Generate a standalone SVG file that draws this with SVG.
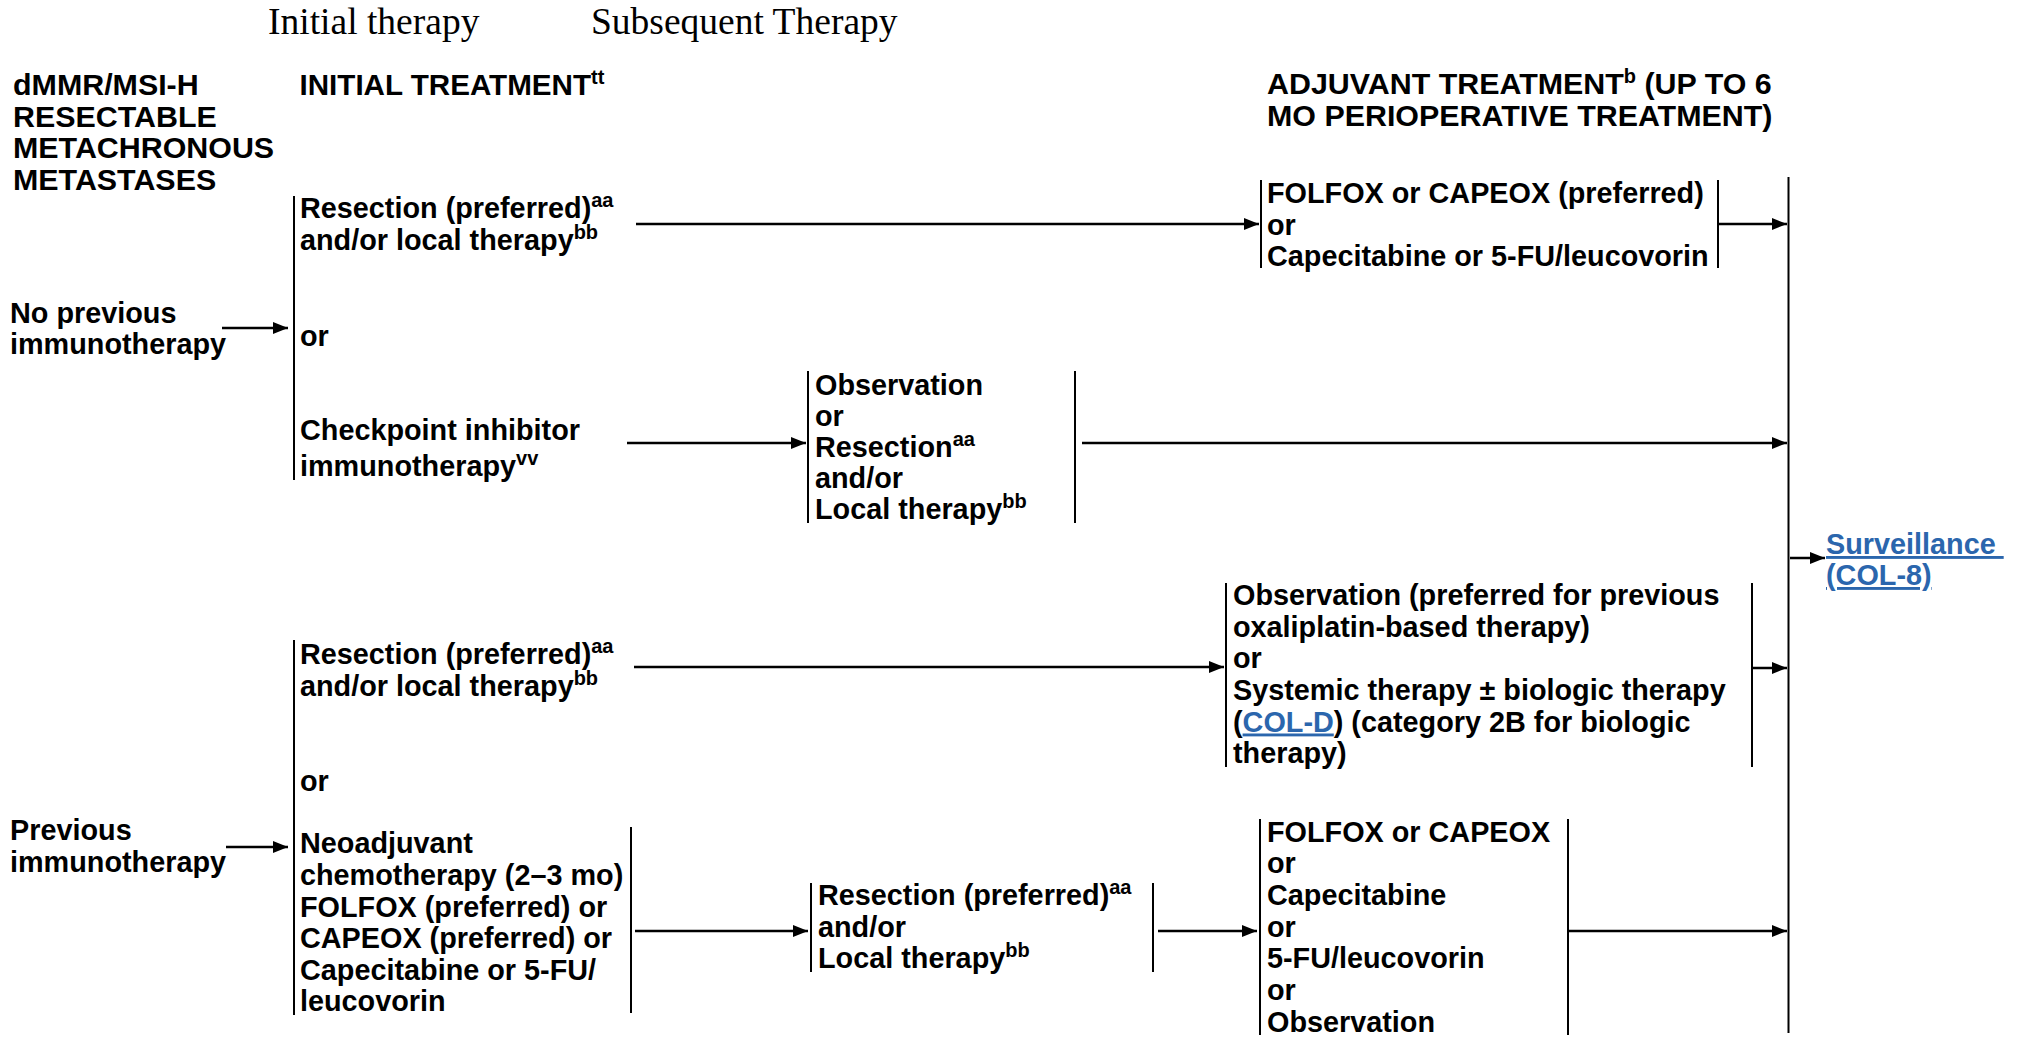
<svg xmlns="http://www.w3.org/2000/svg" width="2024" height="1037" viewBox="0 0 2024 1037">
  <style>
    .t { font-family: "Liberation Sans", Arial, Helvetica, sans-serif; font-weight: bold; font-size: 28.8px; fill: #000; }
    .h { font-size: 30.4px; }
    .sup { font-size: 20px; }
    .serif { font-family: "Liberation Serif", "Times New Roman", serif; font-size: 37.5px; fill: #000; }
    .link { fill: #2b66ad; text-decoration: underline; }
    .br { stroke: #000; stroke-width: 2; fill: none; }
    .cn { stroke: #000; stroke-width: 2.4; fill: none; marker-end: url(#ah); }
  </style>
  <defs>
    <marker id="ah" markerUnits="userSpaceOnUse" markerWidth="15" markerHeight="12" refX="15" refY="6" orient="auto">
      <path d="M0,0 L15,6 L0,12 z" fill="#000"/>
    </marker>
  </defs>
  <rect width="2024" height="1037" fill="#fff"/>

  <!-- column captions -->
  <g id="captions">
    <text class="serif" x="268" y="34">Initial therapy</text>
    <text class="serif" x="591" y="34">Subsequent Therapy</text>
    <text class="t" x="299.5" y="95" style="font-size:29.6px">INITIAL TREATMENT<tspan class="sup" dy="-11">tt</tspan></text>
    <text class="t h" x="1267" y="94">ADJUVANT TREATMENT<tspan class="sup" dy="-11">b</tspan><tspan dy="11"> (UP TO 6</tspan></text>
    <text class="t h" x="1267" y="125.5">MO PERIOPERATIVE TREATMENT)</text>
  </g>

  <g id="node-condition">
    <text class="t h" x="13" y="95">dMMR/MSI-H</text>
    <text class="t h" x="13" y="126.5">RESECTABLE</text>
    <text class="t h" x="13" y="158">METACHRONOUS</text>
    <text class="t h" x="13" y="189.5">METASTASES</text>
  </g>

  <g id="node-no-previous">
    <text class="t" x="10" y="323">No previous</text>
    <text class="t" x="10" y="354">immunotherapy</text>
  </g>

  <g id="node-previous">
    <text class="t" x="10" y="840">Previous</text>
    <text class="t" x="10" y="872">immunotherapy</text>
  </g>

  <!-- initial treatment, no previous immunotherapy -->
  <g id="node-initial-upper">
    <line class="br" x1="294" y1="196" x2="294" y2="480"/>
    <text class="t" x="300" y="218">Resection (preferred)<tspan class="sup" dy="-11">aa</tspan></text>
    <text class="t" x="300" y="250">and/or local therapy<tspan class="sup" dy="-11">bb</tspan></text>
    <text class="t" x="300" y="346">or</text>
    <text class="t" x="300" y="440">Checkpoint inhibitor</text>
    <text class="t" x="300" y="476">immunotherapy<tspan class="sup" dy="-11">vv</tspan></text>
  </g>

  <g id="node-adjuvant-upper">
    <line class="br" x1="1261" y1="180" x2="1261" y2="268"/>
    <line class="br" x1="1718" y1="180" x2="1718" y2="268"/>
    <text class="t" x="1267" y="203">FOLFOX or CAPEOX (preferred)</text>
    <text class="t" x="1267" y="235">or</text>
    <text class="t" x="1267" y="266">Capecitabine or 5-FU/leucovorin</text>
  </g>

  <g id="node-observation-upper">
    <line class="br" x1="808" y1="371" x2="808" y2="523"/>
    <line class="br" x1="1075" y1="371" x2="1075" y2="523"/>
    <text class="t" x="815" y="395">Observation</text>
    <text class="t" x="815" y="426">or</text>
    <text class="t" x="815" y="457">Resection<tspan class="sup" dy="-11">aa</tspan></text>
    <text class="t" x="815" y="488">and/or</text>
    <text class="t" x="815" y="519">Local therapy<tspan class="sup" dy="-11">bb</tspan></text>
  </g>

  <g id="node-surveillance">
    <line class="br" x1="1788.5" y1="177" x2="1788.5" y2="1033"/>
    <text class="t link" x="1826" y="554">Surveillance&#160;</text>
    <text class="t link" x="1826" y="585">(COL-8)</text>
  </g>

  <!-- initial treatment, previous immunotherapy -->
  <g id="node-initial-lower">
    <line class="br" x1="294" y1="640" x2="294" y2="1015"/>
    <text class="t" x="300" y="664">Resection (preferred)<tspan class="sup" dy="-11">aa</tspan></text>
    <text class="t" x="300" y="696">and/or local therapy<tspan class="sup" dy="-11">bb</tspan></text>
    <text class="t" x="300" y="791">or</text>
    <line class="br" x1="631" y1="827" x2="631" y2="1013"/>
    <text class="t" x="300" y="853">Neoadjuvant</text>
    <text class="t" x="300" y="885">chemotherapy (2–3 mo)</text>
    <text class="t" x="300" y="916.5">FOLFOX (preferred) or</text>
    <text class="t" x="300" y="948">CAPEOX (preferred) or</text>
    <text class="t" x="300" y="979.5">Capecitabine or 5-FU/</text>
    <text class="t" x="300" y="1011">leucovorin</text>
  </g>

  <g id="node-observation-lower">
    <line class="br" x1="1226" y1="583" x2="1226" y2="767"/>
    <line class="br" x1="1752" y1="583" x2="1752" y2="767"/>
    <text class="t" x="1233" y="605">Observation (preferred for previous</text>
    <text class="t" x="1233" y="637">oxaliplatin-based therapy)</text>
    <text class="t" x="1233" y="668">or</text>
    <text class="t" x="1233" y="700">Systemic therapy ± biologic therapy</text>
    <text class="t" x="1233" y="731.5">(<tspan class="link">COL-D</tspan>) (category 2B for biologic</text>
    <text class="t" x="1233" y="763">therapy)</text>
  </g>

  <g id="node-resection-lower">
    <line class="br" x1="811" y1="883" x2="811" y2="972"/>
    <line class="br" x1="1153" y1="883" x2="1153" y2="972"/>
    <text class="t" x="818" y="905">Resection (preferred)<tspan class="sup" dy="-11">aa</tspan></text>
    <text class="t" x="818" y="937">and/or</text>
    <text class="t" x="818" y="968">Local therapy<tspan class="sup" dy="-11">bb</tspan></text>
  </g>

  <g id="node-adjuvant-lower">
    <line class="br" x1="1260" y1="819" x2="1260" y2="1035"/>
    <line class="br" x1="1568" y1="819" x2="1568" y2="1035"/>
    <text class="t" x="1267" y="842">FOLFOX or CAPEOX</text>
    <text class="t" x="1267" y="873">or</text>
    <text class="t" x="1267" y="905">Capecitabine</text>
    <text class="t" x="1267" y="937">or</text>
    <text class="t" x="1267" y="968">5-FU/leucovorin</text>
    <text class="t" x="1267" y="1000">or</text>
    <text class="t" x="1267" y="1032">Observation</text>
  </g>

  <g id="connectors">
    <line class="cn" x1="222" y1="328" x2="288" y2="328"/>
    <line class="cn" x1="636" y1="224" x2="1259" y2="224"/>
    <line class="cn" x1="1719" y1="224" x2="1787" y2="224"/>
    <line class="cn" x1="627" y1="443" x2="806" y2="443"/>
    <line class="cn" x1="1082" y1="443" x2="1787" y2="443"/>
    <line class="cn" x1="1790" y1="558" x2="1825" y2="558"/>
    <line class="cn" x1="634" y1="667" x2="1224" y2="667"/>
    <line class="cn" x1="1753" y1="668" x2="1787" y2="668"/>
    <line class="cn" x1="226" y1="847" x2="288" y2="847"/>
    <line class="cn" x1="635" y1="931" x2="808" y2="931"/>
    <line class="cn" x1="1158" y1="931" x2="1257" y2="931"/>
    <line class="cn" x1="1569" y1="931" x2="1787" y2="931"/>
  </g>
</svg>
